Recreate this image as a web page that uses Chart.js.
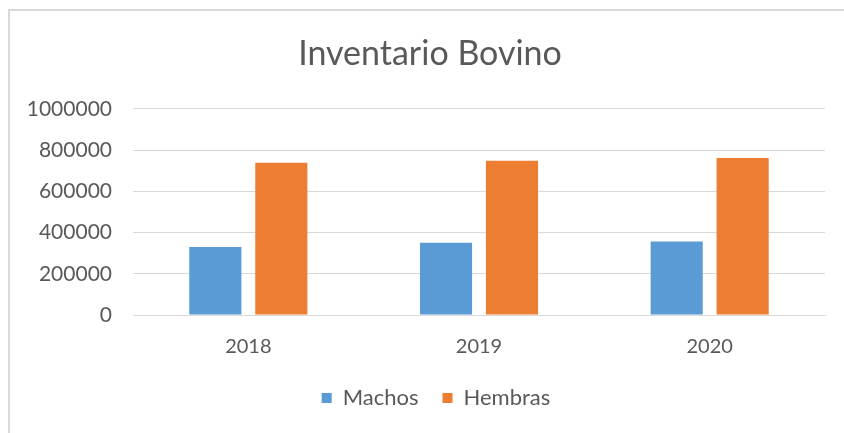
<!DOCTYPE html>
<html>
<head>
<meta charset="utf-8">
<script src="https://cdn.jsdelivr.net/npm/chart.js@4"></script>
<style>
  html, body { margin: 0; padding: 0; background: #fff; overflow: hidden; }
  .frame { position: absolute; left: 8px; top: 9px; width: 900px; height: 500px; border: 2px solid #D9D9D9; }
  .wrap { position: absolute; left: 0; top: 0; width: 844px; height: 433px; }
</style>
</head>
<body>
<div class="frame"></div>
<div class="wrap"><canvas id="chart" width="844" height="433"></canvas></div>
<script>
// Chart data
const years = ['2018', '2019', '2020'];
const machos = [330000, 350000, 356000];
const hembras = [738000, 748000, 761000];
const yTicks = [0, 200000, 400000, 600000, 800000, 1000000];

const textColor = '#595959';
const gridColor = '#D9D9D9';

// the y labels hang past the left padding; widen the y box so they are not clipped,
// and nudge the legend a little to the right like the original
const layoutTweaks = {
    id: 'layoutTweaks',
    afterLayout(chart) {
        const y = chart.scales.y;
        y.left = 0;
        y.width = y.right;
        chart.legend.left += 6;
        chart.legend.right += 6;
    }
};

const ctx = document.getElementById('chart');
new Chart(ctx, {
    type: 'bar',
    data: {
        labels: years,
        datasets: [
            { label: 'Machos', data: machos, backgroundColor: '#5B9BD5' },
            { label: 'Hembras', data: hembras, backgroundColor: '#ED7D31' }
        ]
    },
    options: {
        responsive: false,
        animation: false,
        layout: { padding: { top: 0, right: 19, bottom: 14, left: 35 } },
        datasets: {
            bar: { categoryPercentage: 0.572, barPercentage: 0.79 }
        },
        plugins: {
            title: {
                display: true,
                text: 'Inventario Bovino',
                color: textColor,
                font: { family: 'Lato', size: 34, weight: 'normal' },
                padding: { top: 34, bottom: 34 }
            },
            legend: {
                position: 'bottom',
                labels: {
                    color: textColor,
                    font: { family: 'Lato', size: 22 },
                    boxWidth: 10,
                    boxHeight: 10,
                    padding: 24
                }
            },
            tooltip: { enabled: false }
        },
        scales: {
            x: {
                grid: { display: false },
                border: { color: gridColor },
                ticks: {
                    color: textColor,
                    font: { family: 'Lato', size: 20 },
                    padding: 12
                },
                afterFit: (scale) => { scale.height = 48; }
            },
            y: {
                min: 0,
                max: 1000000,
                afterBuildTicks: (scale) => { scale.ticks = yTicks.map(v => ({ value: v })); },
                grid: { color: gridColor, drawTicks: false },
                border: { display: false },
                ticks: {
                    color: textColor,
                    font: { family: 'Lato', size: 21 },
                    padding: 21,
                    callback: (v) => String(v)
                },
                afterFit: (scale) => { scale.width = 98; }
            }
        }
    },
    plugins: [layoutTweaks]
});
</script>
</body>
</html>
